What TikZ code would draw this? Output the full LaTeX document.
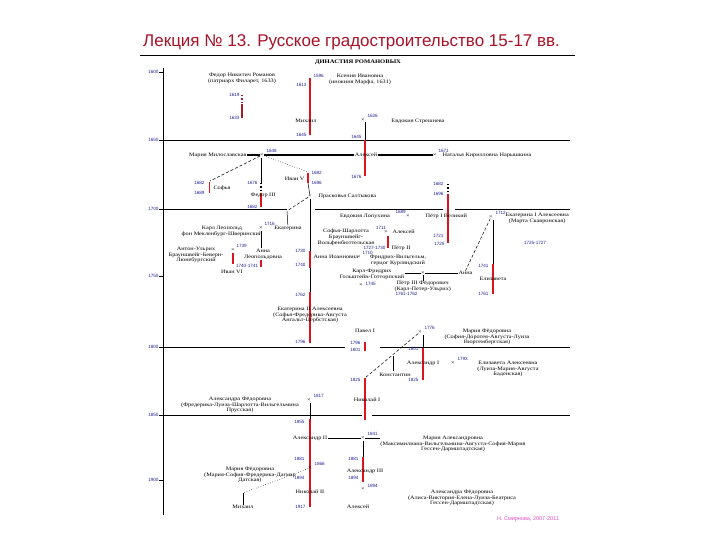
\documentclass[tikz,border=0pt]{standalone}
\usepackage{fontspec}
\setmainfont{Liberation Serif}
\newfontfamily\titlefont{Liberation Sans}
\newfontfamily\chartfont[FakeStretch=1.2]{Liberation Serif}
\definecolor{titlered}{RGB}{168,18,40}
\definecolor{yrblue}{RGB}{30,30,150}
\definecolor{reignred}{RGB}{220,20,30}
\definecolor{darkreign}{RGB}{160,30,40}
\definecolor{signpink}{RGB}{225,80,200}
\newcommand{\namefont}{\chartfont\fontsize{5.2}{5.8}\selectfont}
\newcommand{\yrfont}{\titlefont\fontsize{4.6}{5}\selectfont}

\begin{document}
\begin{tikzpicture}[x=1pt,y=-1pt,
    person/.style={font=\namefont, align=center, inner sep=0.3pt},
    yr/.style={font=\yrfont, text=yrblue, inner sep=0.3pt},
    wed/.style={font=\namefont, inner sep=0pt},
    reign/.style={draw=reignred, line width=2.6pt},
    shortreign/.style={draw=reignred, line width=1.4pt},
    centuryline/.style={line width=0.8pt},
    tie/.style={line width=0.5pt},
    marriage/.style={line width=1.3pt}]
\useasboundingbox (0,0) rectangle (720,540);

\node[font=\titlefont\fontsize{17}{20}\selectfont, text=titlered, anchor=base west, inner sep=0pt] (title) at (143,46.5) {Лекция № 13. Русское градостроительство 15-17 вв.};
\draw[centuryline] (140,55) -- (575,55);
\node[font=\chartfont\bfseries\fontsize{5.5}{6}\selectfont, inner sep=0pt] (dynasty) at (358,62) {ДИНАСТИЯ РОМАНОВЫХ};

% time axis
\draw[centuryline] (163,68) -- (163,515);
\foreach \Y/\y in {1600/72,1650/140,1700/209,1750/276,1800/347,1850/415,1900/480} {
    \node[yr, anchor=east] (c\Y) at (159,\y) {\Y};
    \draw[tie] (c\Y.east) -- (163,\y);}
\draw[centuryline] (163,140) -- (570,140);
\draw[centuryline] (163,209) -- (287,209) (315,209) -- (443,209) (455,209) -- (570,209);
\draw[centuryline] (163,347) -- (345,347) (380,347) -- (570,347);
\draw[centuryline] (163,415) -- (362,415) (372,415) -- (570,415);

% reigns
\draw[darkreign, line width=1.4pt, dotted] (242,95) -- (242,104);
\draw[darkreign, line width=1.4pt] (242,104) -- (242,118);
\draw[reign] (310,78) -- (310,135);
\draw[tie] (365,122) -- (365,140);
\draw[reign] (365,140) -- (365,176);
\draw[shortreign, line width=1pt] (209,182) -- (209,193);
\draw[tie] (261,158) -- (261,183);
\draw[line width=1.4pt, dotted] (261,183) -- (261,193);
\draw[reign] (261,193) -- (261,207);
\draw[shortreign] (308,173) -- (308,183);
\draw[tie] (310,199) -- (310,251);
\draw[reign] (310,251) -- (310,268);
\draw[tie] (310,268) -- (310,292);
\draw[reign] (310,292) -- (310,343);
\draw[shortreign, line width=1.1pt] (233,253) -- (233,264);
\draw[tie] (261,231) -- (261,248);
\draw[shortreign, line width=1.1pt] (261,260) -- (261,267);
\draw[line width=1.4pt, dotted] (448,184) -- (448,194);
\draw[reign] (448,194) -- (448,243);
\draw[shortreign] (388,236) -- (388,248);
\draw[tie] (493,220) -- (493,264);
\draw[reign] (493,264) -- (493,294);
\draw[shortreign] (365,342) -- (365,351);
\draw[tie] (423,335) -- (423,348);
\draw[reign] (423,348) -- (423,380);
\draw[tie] (393,356) -- (393,371);
\draw[reign] (365,378) -- (365,420);
\draw[tie] (310,403) -- (310,419);
\draw[reign] (310,419) -- (310,507);
\draw[tie] (363,441) -- (363,457);
\draw[reign] (363,457) -- (363,482);

% 17th century
\node[person] (filaret) at (242,78.5) {Федор Никитич Романов\\(патриарх Филарет, 1633)};
\node[person] (kseniya) at (360,79) {Ксения Ивановна\\(инокиня Марфа, 1631)};
\node[yr, anchor=east] (y1619) at (240,95) {1619};
\node[yr, anchor=east] (y1633) at (240,118) {1633};
\node[yr, anchor=west] (y1596) at (313,76) {1596};
\node[yr, anchor=east] (y1613) at (307,85) {1613};
\node[person] (mikhail) at (306,121) {Михаил};
\node[yr, anchor=east] (y1645a) at (307,135) {1645};
\node[wed] (wed1) at (363,120) {×};
\node[yr, anchor=west] (y1626) at (367,116) {1626};
\node[person] (streshneva) at (418,121) {Евдокия Стрешнева};
\node[yr, anchor=east] (y1645b) at (362,137) {1645};
\node[yr, anchor=east] (y1676a) at (362,177) {1676};

\node[person, anchor=east] (miloslav) at (247,155) {Мария Милославская};
\node[wed] (wed2) at (262,155) {×};
\node[yr, anchor=west] (y1648) at (266,151) {1648};
\node[person] (alexei) at (366,155) {Алексей};
\node[wed] (wed3) at (435,155) {×};
\node[yr, anchor=west] (y1671) at (438,151) {1671};
\node[person, anchor=west] (naryshk) at (442,155) {Наталья Кирилловна Нарышкина};
\draw[marriage] (miloslav) -- (wed2) -- (alexei) -- (wed3);

\node[yr, anchor=east] (y1682a) at (205,183) {1682};
\node[yr, anchor=east] (y1689a) at (205,193) {1689};
\node[person, anchor=west] (sofia) at (213,188) {Софья};
\node[yr, anchor=east] (y1676b) at (258,183) {1676};
\node[yr, anchor=east] (y1682b) at (258,207) {1682};
\node[person] (fedor3) at (263,195) {Федор III};
\node[yr, anchor=west] (y1682c) at (311,173) {1682};
\node[yr, anchor=west] (y1696a) at (311,183) {1696};
\node[person, anchor=east] (ivan5) at (305,179) {Иван V};
\coordinate (sofiatop) at (210,181);
\coordinate (ivantop) at (308,172);
\draw[tie, densely dashed] (wed2) -- (sofiatop);
\draw[tie, dotted] (wed2) -- (ivantop);

\node[wed] (wed4) at (310,196) {×};
\node[person, anchor=west] (praskov) at (318,196) {Прасковья Салтыкова};
\draw[tie] (308,183) -- (wed4);
\coordinate (katj) at (287,211);
\node[person] (ekaterina) at (288,228) {Екатерина};
\draw[tie, densely dashed] (wed4) -- (katj);
\draw[tie] (katj) -- (ekaterina);
\node[wed] (wed5) at (261,228) {×};
\node[yr, anchor=west] (y1716) at (264,224) {1716};
\node[person] (karlL) at (222,231) {Карл Леопольд\\фон Мекленбург-Шверинский};
\node[person] (annaleo) at (263,254) {Анна\\Леопольдовна};
\node[person] (anton) at (196,255) {Антон-Ульрих\\Брауншвейг-Беверн-\\Люнебургский};
\node[wed] (wed6) at (233,250) {×};
\node[yr, anchor=west] (y1739) at (236,246) {1739};
\node[yr] (y1740b) at (247,266) {1740-1741};
\node[person] (ivan6) at (232,272) {Иван VI};
\node[yr, anchor=east] (y1730) at (306,251) {1730};
\node[yr, anchor=east] (y1740a) at (306,265) {1740};
\node[person, anchor=west] (annaI) at (313,257) {Анна Иоанновна};
\node[wed] (wed7) at (359,257) {×};
\node[yr, anchor=west] (y1710) at (362,253) {1710};
\node[person] (friedrich) at (398,260) {Фридрих-Вильгельм,\\герцог Курляндский};

% Peter I
\node[person] (lopukh) at (365,216) {Евдокия Лопухина};
\node[yr, anchor=west] (y1689b) at (395,212) {1689};
\node[wed] (wed8) at (408,216) {×};
\node[person, anchor=west] (petr1) at (425,216) {Пётр I Великий};
\node[yr, anchor=east] (y1682d) at (444,184) {1682};
\node[yr, anchor=east] (y1696b) at (444,194) {1696};
\node[yr, anchor=east] (y1721) at (444,236) {1721};
\node[yr, anchor=east] (y1725a) at (445,244) {1725};
\node[person] (sofiaCh) at (346,237) {Софья-Шарлотта\\Брауншвейг-\\Вольфенбюттельская};
\node[yr] (y1711) at (381,228) {1711};
\node[wed] (wed9) at (386,232) {×};
\node[person, anchor=west] (alexP) at (392,232) {Алексей};
\node[yr, anchor=east] (y1727) at (386,248) {1727-1730};
\node[person, anchor=west] (petr2) at (391,248) {Пётр II};
\node[wed] (wed10) at (491,217) {×};
\node[yr, anchor=west] (y1712) at (495,213) {1712};
\node[person, anchor=west] (ekat1) at (505,218) {Екатерина I Алексеевна\\(Марта Скавронская)};
\node[yr] (y1725b) at (535,243) {1725-1727};
\node[yr, anchor=east] (y1741) at (489,266) {1741};
\node[yr, anchor=east] (y1761) at (489,294) {1761};
\node[person] (eliz) at (493,279) {Елизавета};
\node[person] (karlF) at (372,274) {Карл-Фридрих\\Гольштейн-Готторпский};
\node[wed] (wed11) at (423,273) {×};
\node[person, anchor=west] (annaP) at (458,273) {Анна};
\draw[tie] (karlF.east |- wed11) -- (wed11) -- (annaP);
\draw[tie, densely dashed] (wed10) -- (annaP.north);
\node[wed] (wed12) at (361,285.5) {×};
\node[yr, anchor=west] (y1745) at (365,283.5) {1745};
\node[person, anchor=north west] (petr3) at (394,280.5) {Пётр III Фёдорович\\(Карл-Петер-Ульрих)};
\node[yr, anchor=west] (y1761b) at (395,294) {1761-1762};
\draw[tie] (wed11) -- (wed11 |- petr3.north);

% Catherine II and 19th century
\node[yr, anchor=east] (y1762) at (306,295) {1762};
\node[yr, anchor=east] (y1796a) at (306,342) {1796};
\node[person] (ekat2) at (310,315) {Екатерина II Алексеевна\\(Софья-Фредерика-Августа\\Ангальт-Цербстская)};
\node[person] (pavel) at (365,331) {Павел I};
\node[yr, anchor=east] (y1796b) at (361,343) {1796};
\node[yr, anchor=east] (y1801a) at (361,350) {1801};
\node[wed] (wed13) at (420,332) {×};
\node[yr, anchor=west] (y1776) at (424,328) {1776};
\node[person] (mariaF) at (487,337) {Мария Фёдоровна\\(София-Доротея-Августа-Луиза\\Вюртембергская)};
\node[yr, anchor=east] (y1801b) at (419,349) {1801};
\node[yr, anchor=east] (y1825a) at (419,380) {1825};
\node[person] (alex1) at (423,363) {Александр I};
\node[wed] (wed14) at (453,363) {×};
\node[yr, anchor=west] (y1793) at (457,359) {1793};
\node[person] (elizA) at (508,369) {Елизавета Алексеевна\\(Луиза-Мария-Августа\\Баденская)};
\node[person] (konst) at (395,375) {Константин};
\coordinate (nikolaitop) at (365,378);
\draw[tie, densely dashed] (wed13) -- (nikolaitop);
\node[yr, anchor=east] (y1825b) at (361,380) {1825};
\node[person] (nik1) at (367,400) {Николай I};
\node[wed] (wed15) at (309,400) {×};
\node[yr, anchor=west] (y1817) at (313,396) {1817};
\node[person] (alexandraF) at (240,405) {Александра Фёдоровна\\(Фредерика-Луиза-Шарлотта-Вильгельмина\\Прусская)};
\node[yr, anchor=east] (y1855) at (305,422) {1855};
\node[person] (alex2) at (310,438) {Александр II};
\node[wed] (wed16) at (363,438) {×};
\node[yr, anchor=west] (y1841) at (367,434) {1841};
\node[person] (mariaA) at (453,444) {Мария Александровна\\(Максимилиана-Вильгельмина-Августа-София-Мария\\Гессен-Дармштадтская)};
\draw[tie] (alex2) -- (wed16) -- (mariaA.west |- wed16);
\node[yr, anchor=east] (y1881a) at (305,459) {1881};
\node[yr, anchor=east] (y1881b) at (359,459) {1881};
\node[yr, anchor=east] (y1894a) at (359,478) {1894};
\node[person] (alex3) at (365,471) {Александр III};
\node[wed] (wed17) at (310,468) {×};
\node[yr, anchor=west] (y1866) at (314,464) {1866};
\node[person] (mariaD) at (250,475) {Мария Фёдоровна\\(Мария-София-Фредерика-Дагмар\\Датская)};
\node[yr, anchor=east] (y1894b) at (305,478) {1894};
\node[person] (nik2) at (310,492) {Николай II};
\node[yr, anchor=east] (y1917) at (306,507) {1917};
\node[wed] (wed18) at (363,489) {×};
\node[yr, anchor=west] (y1894c) at (367,486) {1894};
\node[person] (alexandraA) at (462,498) {Александра Фёдоровна\\(Алиса-Виктория-Елена-Луиза-Беатриса\\Гессен-Дармштадтская)};
\coordinate (mdot) at (243,493);
\node[person] (mikhail2) at (243,507) {Михаил};
\node[person] (alexei2) at (358,507) {Алексей};
\draw[tie, dotted] (wed17) -- (mdot);
\draw[tie] (mdot) -- (mikhail2);

\node[font=\titlefont\fontsize{5.5}{6}\selectfont, text=signpink] (sign) at (528,519) {Н. Смирнова, 2007-2011};
\end{tikzpicture}
\end{document}
